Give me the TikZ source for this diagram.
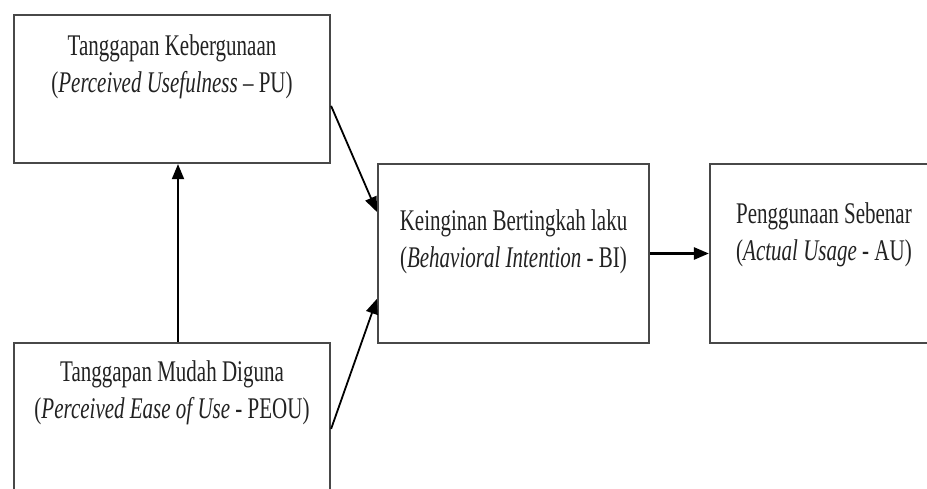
\documentclass[tikz,border=0pt]{standalone}
\usepackage{fontspec}
\setmainfont{Liberation Serif}
\usepackage{xcolor}
\usepackage{tikz}
\usetikzlibrary{arrows.meta,positioning}
\definecolor{bx}{HTML}{484848}
\definecolor{tx}{HTML}{222222}

\tikzset{
  box/.style={draw=bx, line width=2.2pt, minimum width=#1, inner sep=0pt},
  lbl/.style={font=\fontsize{30}{37}\selectfont, text=tx, align=center, xscale=0.70, inner sep=0pt},
  arr/.style={-{Triangle[length=15pt,width=12pt]}, line width=1.8pt, black}
}

\begin{document}
\begin{tikzpicture}[x=1pt,y=1pt]
  \useasboundingbox (0,0) rectangle (927,489);
  % the four construct boxes
  \node[box=316pt, minimum height=148pt] (pu)   at (172,400) {};
  \node[box=316pt, minimum height=157pt] (peou) at (172,67.5) {};
  \node[box=271pt, minimum height=179pt] (bi)   at (513.5,235.5) {};
  \node[box=228pt, minimum height=179pt] (au)   at (824,235.5) {};
  % their titles
  \node[lbl, below=21pt of pu.north] (puT) {Tanggapan Kebergunaan\\(\textit{Perceived Usefulness} – PU)};
  \node[lbl, below=19pt of peou.north] (peouT) {Tanggapan Mudah Diguna\\(\textit{Perceived Ease of Use} - PEOU)};
  \node[lbl, below=47pt of bi.north] (biT) {Keinginan Bertingkah laku\\(\textit{Behavioral Intention} - BI)};
  \node[lbl, below=40pt of au.north] (auT) {Penggunaan Sebenar\\(\textit{Actual Usage} - AU)};
  % relations
  \draw[arr] ([xshift=6pt]peou.north) -- ([xshift=6pt]pu.south);
  \draw[arr] ([yshift=-92pt]pu.north east) -- ([yshift=-49pt]bi.north west);
  \draw[arr] ([yshift=-87pt]peou.north east) -- ([yshift=-136pt]bi.north west);
  \draw[arr, line width=2.6pt] (bi.east) -- (bi.east -| au.west);
\end{tikzpicture}
\end{document}
